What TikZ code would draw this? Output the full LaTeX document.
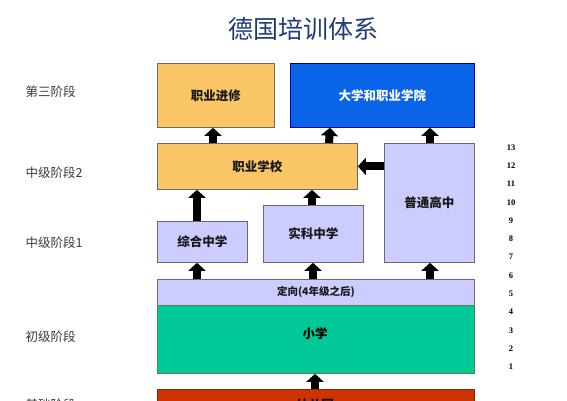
\documentclass[tikz,border=0pt]{standalone}
\usepackage{fontspec}
\setmainfont{Noto Sans CJK SC}
\newfontfamily\numfont{Liberation Serif}
\usetikzlibrary{arrows.meta}
\definecolor{boxorange}{HTML}{FAC666}
\definecolor{boxlav}{HTML}{CCCCFF}
\definecolor{boxblue}{HTML}{0A64E8}
\definecolor{boxgreen}{HTML}{00C896}
\definecolor{boxred}{HTML}{CC3300}
\definecolor{edgegray}{HTML}{6A6A6A}
\definecolor{titleblue}{HTML}{1F3C78}
\definecolor{labelgray}{HTML}{3A3A3A}
\tikzset{
  box/.style={draw=edgegray, line width=0.8pt, inner sep=0pt, anchor=north west,
    font=\fontsize{12.5}{14}\selectfont\bfseries, text=black!90},
  orangebox/.style={box, fill=boxorange},
  lavbox/.style={box, fill=boxlav},
  stage/.style={anchor=west, text=labelgray, font=\fontsize{12.5}{14}\selectfont},
  grade/.style={text=black, font=\numfont\fontsize{8.5}{10}\selectfont\bfseries},
  barrow/.style={line width=8pt, -{Triangle[width=17pt,length=8pt]}, draw=black}
}
\begin{document}
\begin{tikzpicture}[x=1pt,y=-1pt]
\useasboundingbox (0,0) rectangle (567,400);
\fill[white] (0,0) rectangle (567,400);
% title
\node[text=titleblue, font=\fontsize{25}{28}\selectfont] (title) at (303,29) {德国培训体系};
% boxes
\node[orangebox, minimum width=117pt, minimum height=64pt] (zyjx) at (157,63) {职业进修};
\node[box, fill=boxblue, draw=blue!60!black, text=white, minimum width=184pt, minimum height=64pt] (dxzy) at (290,63) {大学和职业学院};
\node[orangebox, minimum width=200pt, minimum height=46pt] (zyxx) at (157,143) {职业学校};
\node[lavbox, minimum width=90pt, minimum height=119pt] (ptgz) at (384,143) {普通高中};
\node[lavbox, minimum width=90pt, minimum height=41pt] (zhzx) at (157,221) {综合中学};
\node[lavbox, minimum width=100pt, minimum height=57pt] (skzx) at (263,205) {实科中学};
\node[lavbox, minimum width=317pt, minimum height=26pt, font=\fontsize{10.5}{12}\selectfont\bfseries] (dingx) at (157,279) {定向(4年级之后)};
\node[box, fill=boxgreen, draw=green!35!black!70, minimum width=317pt, minimum height=68pt] (xx) at (157,305) {};
\node[font=\fontsize{12.5}{14}\selectfont\bfseries] (xxt) at (315,334) {小学};
\node[box, fill=boxred, draw=boxred!70!black, minimum width=317pt, minimum height=32pt] (yey) at (157,389) {};
\node[font=\fontsize{12.5}{14}\selectfont\bfseries, text=black] (yeyt) at (315,405) {幼儿园};
% arrows
\draw[barrow] ([xshift=56pt]zyxx.north west) -- ([xshift=56pt]zyjx.south west);
\draw[barrow] ([xshift=172pt]zyxx.north west) -- ([xshift=40pt]dxzy.south west);
\draw[barrow] ([xshift=46pt]ptgz.north west) -- ([xshift=140pt]dxzy.south west);
\draw[barrow] (ptgz.west |- zyxx.east) -- (zyxx.east);
\draw[barrow] ([xshift=40pt]zhzx.north west) -- ([xshift=40pt]zyxx.south west);
\draw[barrow] ([xshift=49pt]skzx.north west) -- ([xshift=155pt]zyxx.south west);
\draw[barrow] ([xshift=40pt]dingx.north west) -- ([xshift=40pt]zhzx.south west);
\draw[barrow] ([xshift=156pt]dingx.north west) -- ([xshift=50pt]skzx.south west);
\draw[barrow] ([xshift=273pt]dingx.north west) -- ([xshift=46pt]ptgz.south west);
\draw[barrow] ([xshift=158pt]yey.north west) -- ([xshift=158pt]xx.south west);
% stage labels
\node[stage] (s3) at (22,92) {第三阶段};
\node[stage] (m2) at (22,173) {中级阶段2};
\node[stage] (m1) at (22,243) {中级阶段1};
\node[stage] (p1) at (22,337) {初级阶段};
\node[stage] (b0) at (22,405) {基础阶段};
% grade numbers
\foreach \n in {1,...,13} {
  \node[grade] (g\n) at (511,{367-18.3*(\n-1)}) {\n};
}
\end{tikzpicture}
\end{document}
